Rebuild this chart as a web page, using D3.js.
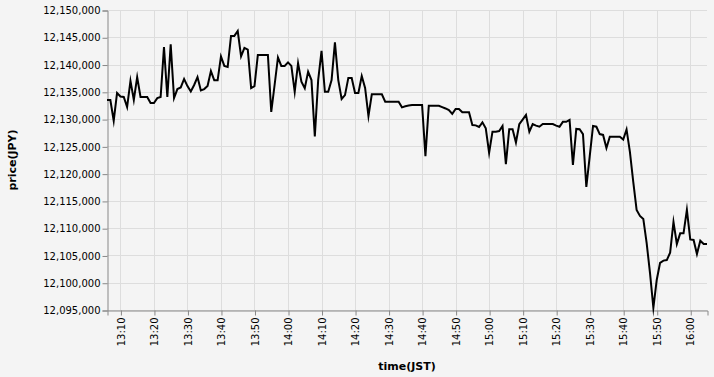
<!DOCTYPE html>
<html>
<head>
<meta charset="utf-8">
<script src="https://cdn.jsdelivr.net/npm/d3@7"></script>
<style>
  html, body { margin: 0; padding: 0; background: #f4f4f4; }
  svg { display: block; }
  text { font-family: "DejaVu Sans", sans-serif; }
</style>
</head>
<body>
<svg id="chart" width="714" height="377"></svg>
<script>
// ---- data ----
const startTime = "13:06";      // first sample, one sample per minute
const endTime = "16:05";
const prices = [
  12133500, 12133500, 12129700, 12134800, 12134150, 12134050, 12132200, 12137000, 12133500, 12137700,
  12134050, 12134050, 12134050, 12132950, 12132950, 12133850, 12134050, 12143200, 12134050, 12143700,
  12133850, 12135500, 12135800, 12137350, 12136050, 12135050, 12136250, 12137700, 12135250, 12135500,
  12136050, 12138800, 12137100, 12137100, 12141500, 12139750, 12139550, 12145250, 12145250, 12146150,
  12141500, 12143050, 12142750, 12135700, 12136050, 12141750, 12141750, 12141750, 12141750, 12131300,
  12136250, 12141300, 12139750, 12139750, 12140400, 12139750, 12135000, 12140250, 12136850, 12135650,
  12138700, 12137150, 12126800, 12137150, 12142500, 12135000, 12135000, 12137150, 12144050, 12137150,
  12133700, 12134400, 12137550, 12137550, 12134800, 12134800, 12137900, 12135700, 12130550, 12134550,
  12134550, 12134550, 12134550, 12133200, 12133200, 12133200, 12133200, 12133200, 12132150, 12132350,
  12132500, 12132600, 12132600, 12132600, 12132600, 12123200, 12132450, 12132450, 12132450, 12132450,
  12132200, 12131950, 12131650, 12130950, 12131850, 12131850, 12131250, 12131250, 12131250, 12128900,
  12128850, 12128550, 12129400, 12128300, 12123800, 12127700, 12127700, 12127800, 12128750, 12121750,
  12128150, 12128150, 12125700, 12129050, 12129900, 12130750, 12127700, 12129100, 12128800, 12128600,
  12129100, 12129100, 12129100, 12129100, 12128800, 12128600, 12129500, 12129500, 12129850, 12121600,
  12128200, 12128150, 12127250, 12117550, 12123100, 12128750, 12128600, 12127250, 12127100, 12124700,
  12126750, 12126750, 12126750, 12126750, 12126250, 12128100, 12124000, 12118500, 12113350, 12112250,
  12111700, 12107250, 12101750, 12095400, 12100500, 12103650, 12104050, 12104150, 12105500, 12111150,
  12107100, 12109050, 12109050, 12113350, 12107950, 12107850, 12105250, 12107700, 12107100, 12107100
];
const yTicks = [12095000, 12100000, 12105000, 12110000, 12115000, 12120000, 12125000,
                12130000, 12135000, 12140000, 12145000, 12150000];
const xTickLabels = ["13:10","13:20","13:30","13:40","13:50","14:00","14:10","14:20","14:30",
                     "14:40","14:50","15:00","15:10","15:20","15:30","15:40","15:50","16:00"];
const xTitle = "time(JST)";
const yTitle = "price(JPY)";

// ---- layout ----
const W = 714, H = 377;
const mLeft = 107, mRight = 707, mTop = 10, mBottom = 310;

const parse = d3.timeParse("%H:%M");
const t0 = parse(startTime);
const data = prices.map((p, i) => ({ t: d3.timeMinute.offset(t0, i), p }));

const x = d3.scaleTime().domain([t0, parse(endTime)]).range([mLeft, mRight]);
const y = d3.scaleLinear().domain([yTicks[0], yTicks[yTicks.length - 1]]).range([mBottom, mTop]);

const svg = d3.select("#chart");
svg.append("rect").attr("width", W).attr("height", H).attr("fill", "#f4f4f4");

const xTickDates = xTickLabels.map(parse);

// grid
const grid = svg.append("g").attr("stroke", "#dddddd").attr("stroke-width", 1);
grid.selectAll("line.h").data(yTicks).join("line")
  .attr("x1", mLeft).attr("x2", mRight)
  .attr("y1", d => Math.round(y(d)) + 0.5).attr("y2", d => Math.round(y(d)) + 0.5);
grid.selectAll("line.v").data(xTickDates).join("line")
  .attr("y1", mTop).attr("y2", mBottom)
  .attr("x1", d => Math.round(x(d)) + 0.5).attr("x2", d => Math.round(x(d)) + 0.5);

// axes
const yAxis = d3.axisLeft(y).tickValues(yTicks).tickFormat(d3.format(",")).tickSize(5).tickPadding(2);
const gy = svg.append("g").attr("transform", `translate(${mLeft + 0.5},0.5)`).call(yAxis);
gy.select(".domain").attr("stroke", "#888");
gy.selectAll(".tick line").attr("stroke", "#888");
gy.selectAll(".tick text").attr("font-size", 10).attr("fill", "#000").attr("font-family", "DejaVu Sans, sans-serif");

const xAxis = d3.axisBottom(x).tickValues(xTickDates).tickFormat(d3.timeFormat("%H:%M")).tickSize(5).tickPadding(2);
const gx = svg.append("g").attr("transform", `translate(0.5,${mBottom + 0.5})`).call(xAxis);
gx.select(".domain").attr("stroke", "#888");
gx.selectAll(".tick line").attr("stroke", "#888");
gx.selectAll(".tick text")
  .attr("font-size", 10).attr("fill", "#000").attr("font-family", "DejaVu Sans, sans-serif")
  .attr("transform", "rotate(-90)")
  .attr("text-anchor", "end")
  .attr("x", -7).attr("y", 0).attr("dy", "0.32em");

// line
const line = d3.line().x(d => x(d.t)).y(d => y(d.p));
svg.append("path").datum(data)
  .attr("d", line)
  .attr("fill", "none")
  .attr("stroke", "#000")
  .attr("stroke-width", 2)
  .attr("stroke-linejoin", "miter")
  .attr("stroke-miterlimit", 10);

// titles
svg.append("text").text(xTitle)
  .attr("x", (mLeft + mRight) / 2).attr("y", 370)
  .attr("text-anchor", "middle").attr("font-size", 11).attr("font-weight", "bold");
svg.append("text").text(yTitle)
  .attr("transform", `translate(16,${(mTop + mBottom) / 2}) rotate(-90)`)
  .attr("text-anchor", "middle").attr("font-size", 11).attr("font-weight", "bold");
</script>
</body>
</html>
